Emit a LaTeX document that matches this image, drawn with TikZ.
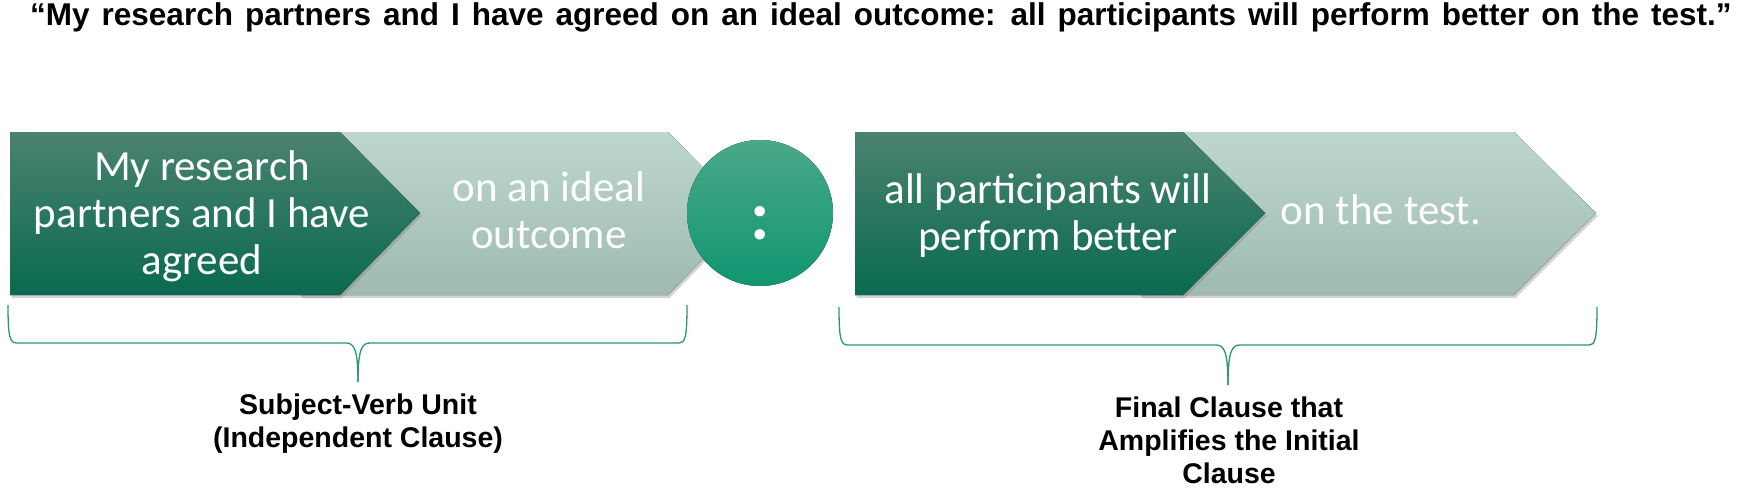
\documentclass[tikz,border=0pt]{standalone}
\usepackage{fontspec}
\setmainfont{Liberation Sans}
\newfontfamily\chevfont{Carlito}
\usetikzlibrary{shadows}
\definecolor{darktop}{HTML}{4A8270}
\definecolor{darkbot}{HTML}{0A6A50}
\definecolor{lighttop}{HTML}{BED7CD}
\definecolor{lightbot}{HTML}{9EBAAE}
\definecolor{circtop}{HTML}{4AA88A}
\definecolor{circbot}{HTML}{109670}
\definecolor{bracegreen}{HTML}{2A9678}
\tikzset{
  darkchev/.style={top color=darktop, bottom color=darkbot, draw=none,
    drop shadow={opacity=0.35, shadow xshift=1.5pt, shadow yshift=-3pt}},
  lightchev/.style={top color=lighttop, bottom color=lightbot, draw=none,
    drop shadow={opacity=0.35, shadow xshift=1.5pt, shadow yshift=-3pt}},
  dotcircle/.style={top color=circtop, bottom color=circbot, draw=none},
  boxtext/.style={text=white, align=center, font=\chevfont\fontsize{43}{47}\selectfont},
  labeltext/.style={align=center, font=\bfseries\fontsize{28.5}{33}\selectfont},
  brace/.style={draw=bracegreen, line width=1.3pt}
}
\begin{document}
\begin{tikzpicture}[x=1pt,y=-1pt]
\useasboundingbox (0,0) rectangle (1757,490);
\draw (881,25) node[anchor=base, font=\bfseries\fontsize{31.5}{33}\selectfont] (quote) {\spaceskip=12pt\relax “My research partners and I have agreed on an ideal outcome: all participants will perform better on the test.”};
\fill[lightchev] (300,132) -- (668,132) -- (748,213) -- (668,295) -- (300,295) -- cycle;
\fill[darkchev] (10,132) -- (340,132) -- (420,213) -- (340,295) -- (10,295) -- cycle;
\draw (202,216) node[boxtext] (subj) {My research\\partners and I have\\agreed};
\draw (549,210) node[boxtext] (obj) {on an ideal\\outcome};
\fill[dotcircle] (760,213) circle (73);
\draw (760,239) node[anchor=base, text=white, font=\chevfont\bfseries\fontsize{70}{70}\selectfont] (colon) {:};
\fill[lightchev] (1140,132) -- (1514,132) -- (1596,213) -- (1514,295) -- (1140,295) -- cycle;
\fill[darkchev] (855,132) -- (1183,132) -- (1265,213) -- (1183,295) -- (855,295) -- cycle;
\draw (1048,216) node[boxtext] (perform) {all participants will\\perform better};
\draw (1381,210) node[boxtext] (test) {on the test.};
\draw[brace] (8,305) .. controls (8,338) and (10,343) .. (17,343) -- (346,343) .. controls (354,343) and (358,349) .. (358,382);
\draw[brace] (358,382) .. controls (358,349) and (362,343) .. (370,343) -- (679,343) .. controls (685,343) and (687,338) .. (687,305);
\draw[brace] (839,307) .. controls (839,340) and (841,345) .. (848,345) -- (1216,345) .. controls (1224,345) and (1228,351) .. (1228,385);
\draw[brace] (1228,385) .. controls (1228,351) and (1232,345) .. (1240,345) -- (1589,345) .. controls (1595,345) and (1597,340) .. (1597,307);
\draw (358,424) node[labeltext] (indep) {Subject-Verb Unit\\(Independent Clause)};
\draw (1229,440) node[labeltext] (final) {Final Clause that\\Amplifies the Initial\\Clause};
\end{tikzpicture}
\end{document}
